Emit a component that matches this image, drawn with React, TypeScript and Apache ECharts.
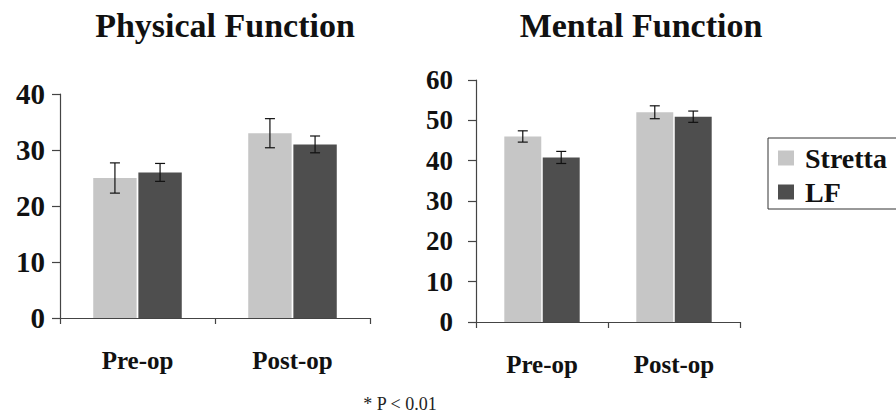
import React, { useEffect, useRef } from "react";
import * as echarts from "echarts";

const categories = ["Pre-op", "Post-op"];
const seriesNames = ["Stretta", "LF"];
const physicalStretta = [25, 33];
const physicalStrettaErr = [2.7, 2.6];
const physicalLF = [26, 31];
const physicalLFErr = [1.6, 1.5];
const mentalStretta = [46, 52];
const mentalStrettaErr = [1.4, 1.6];
const mentalLF = [40.8, 50.9];
const mentalLFErr = [1.5, 1.4];
const physicalTicks = [0, 40, 10];
const mentalTicks = [0, 60, 10];

const SERIF = "Liberation Serif";
const LIGHT = "#c6c6c6";
const DARK = "#4e4e4e";
const BAR_W = 0.28;
const GAP = 0.04;

function errData(vals: number[], errs: number[], side: number) {
  return vals.map((v, i) => [i, v - errs[i], v + errs[i], side]);
}

function renderErr(params: any, api: any) {
  const cat = api.value(0);
  const lo = api.value(1);
  const hi = api.value(2);
  const side = api.value(3);
  const band = api.size([1, 0])[0];
  const bw = band * BAR_W;
  const off = (bw + bw * GAP) / 2;
  const pLo = api.coord([cat, lo]);
  const pHi = api.coord([cat, hi]);
  const x = pLo[0] + (side === 0 ? -off : off);
  const cap = 5;
  const style = { stroke: "#111", lineWidth: 1.2 };
  return {
    type: "group",
    children: [
      { type: "line", shape: { x1: x, y1: pLo[1], x2: x, y2: pHi[1] }, style },
      { type: "line", shape: { x1: x - cap, y1: pLo[1], x2: x + cap, y2: pLo[1] }, style },
      { type: "line", shape: { x1: x - cap, y1: pHi[1], x2: x + cap, y2: pHi[1] }, style },
    ],
  };
}

export default function App() {
  const ref = useRef<HTMLDivElement>(null);
  useEffect(() => {
    if (!ref.current) return;
    const chart = echarts.init(ref.current, null, { renderer: "svg" });
    const yAxisCommon = (idx: number, ticks: number[], margin: number, size: number) => ({
      type: "value",
      gridIndex: idx,
      min: ticks[0],
      max: ticks[1],
      interval: ticks[2],
      axisLine: { show: true, lineStyle: { color: "#444", width: 1.2 } },
      axisTick: { show: true, length: 8, lineStyle: { color: "#444", width: 1.2 } },
      splitLine: { show: false },
      axisLabel: {
        fontFamily: SERIF,
        fontWeight: "bold",
        fontSize: size,
        color: "#111",
        margin,
      },
    });
    const xAxisCommon = (idx: number) => ({
      type: "category",
      gridIndex: idx,
      data: categories,
      axisLine: { show: true, lineStyle: { color: "#444", width: 1.2 } },
      axisTick: { show: true, length: 6, alignWithLabel: false, lineStyle: { color: "#444", width: 1.2 } },
      axisLabel: {
        fontFamily: SERIF,
        fontWeight: "bold",
        fontSize: 25,
        color: "#111",
        margin: 30,
      },
    });
    const bar = (name: string, data: number[], color: string, idx: number) => ({
      type: "bar",
      name,
      xAxisIndex: idx,
      yAxisIndex: idx,
      data,
      barWidth: BAR_W * 100 + "%",
      barGap: GAP * 100 + "%",
      itemStyle: { color },
    });
    const err = (data: any[], idx: number) => ({
      type: "custom",
      xAxisIndex: idx,
      yAxisIndex: idx,
      data,
      renderItem: renderErr,
      encode: { x: 0, y: [1, 2] },
      z: 5,
    });
    chart.setOption({
      animation: false,
      backgroundColor: "#fff",
      textStyle: { fontFamily: SERIF },
      grid: [
        { left: 60, right: 526, top: 94, bottom: 99 },
        { left: 476, right: 156, top: 80, bottom: 95 },
      ],
      xAxis: [xAxisCommon(0), xAxisCommon(1)],
      yAxis: [yAxisCommon(0, physicalTicks, 15, 29), yAxisCommon(1, mentalTicks, 23, 27)],
      legend: {
        data: seriesNames,
        orient: "vertical",
        left: 768,
        top: 138,
        padding: [6, 12, 3, 10],
        itemGap: 6,
        itemWidth: 16,
        itemHeight: 15,
        borderColor: "#333",
        borderWidth: 1,
        icon: "rect",
        textStyle: {
          fontFamily: SERIF,
          fontWeight: "bold",
          fontSize: 28,
          color: "#111",
          padding: [0, 0, 0, 6],
        },
      },
      graphic: [
        {
          type: "text",
          x: 225,
          y: 25,
          style: {
            text: "Physical Function",
            fontFamily: SERIF,
            fontWeight: "bold",
            fontSize: 34,
            fill: "#111",
            textAlign: "center",
            textVerticalAlign: "middle",
          },
        },
        {
          type: "text",
          x: 641,
          y: 25,
          style: {
            text: "Mental Function",
            fontFamily: SERIF,
            fontWeight: "bold",
            fontSize: 34,
            fill: "#111",
            textAlign: "center",
            textVerticalAlign: "middle",
          },
        },
        {
          type: "text",
          x: 400,
          y: 404,
          style: {
            text: "* P < 0.01",
            fontFamily: SERIF,
            fontSize: 18,
            fill: "#222",
            textAlign: "center",
            textVerticalAlign: "middle",
          },
        },
      ],
      series: [
        bar(seriesNames[0], physicalStretta, LIGHT, 0),
        bar(seriesNames[1], physicalLF, DARK, 0),
        bar(seriesNames[0], mentalStretta, LIGHT, 1),
        bar(seriesNames[1], mentalLF, DARK, 1),
        err(errData(physicalStretta, physicalStrettaErr, 0), 0),
        err(errData(physicalLF, physicalLFErr, 1), 0),
        err(errData(mentalStretta, mentalStrettaErr, 0), 1),
        err(errData(mentalLF, mentalLFErr, 1), 1),
      ],
    });
    return () => chart.dispose();
  }, []);
  return <div ref={ref} style={{ width: 896, height: 417, position: "absolute", left: 0, top: 0 }} />;
}
